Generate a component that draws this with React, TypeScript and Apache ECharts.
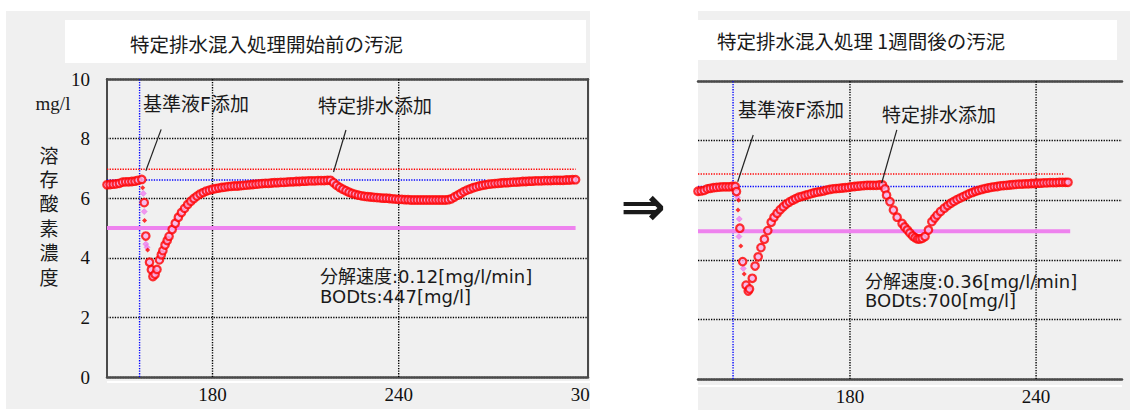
import React, { useEffect, useRef } from "react";
import * as echarts from "echarts";

// ---------- data: left panel (before) ----------
const beforeDO: [number, number][] = [
  [146, 6.45], [147, 6.46], [148, 6.47], [149, 6.48], [150, 6.5], [151, 6.54], [152, 6.55], [153, 6.55],
  [154, 6.56], [155, 6.57], [156, 6.6], [157.2, 6.63], [158.0, 5.85], [158.5, 4.73], [159.7, 3.85],
  [160.3, 3.6], [160.8, 3.37], [161.5, 3.45], [162.1, 3.61], [162.9, 3.93], [163.5, 4.1], [164.0, 4.24],
  [164.7, 4.43], [165.4, 4.58], [166, 4.72], [167, 4.95], [168, 5.16], [169, 5.36], [170, 5.52],
  [171, 5.66], [172, 5.79], [173, 5.9], [174, 5.99], [175, 6.07], [176, 6.14], [177, 6.19], [178, 6.24],
  [179, 6.27], [180, 6.3], [181, 6.32], [182, 6.34], [183, 6.36], [184, 6.37], [185, 6.39], [186, 6.4],
  [187, 6.41], [188, 6.41], [189, 6.42], [190, 6.43], [191, 6.44], [192, 6.45], [193, 6.46], [194, 6.47],
  [195, 6.48], [196, 6.49], [197, 6.5], [198, 6.5], [199, 6.51], [200, 6.52], [201, 6.52], [202, 6.53],
  [203, 6.53], [204, 6.54], [205, 6.55], [206, 6.55], [207, 6.56], [208, 6.56], [209, 6.57], [210, 6.57],
  [211, 6.58], [212, 6.58], [213, 6.58], [214, 6.59], [215, 6.59], [216, 6.59], [217, 6.6], [218, 6.6],
  [219, 6.52], [220, 6.43], [221, 6.36], [222, 6.3], [223, 6.25], [224, 6.2], [225, 6.16], [226, 6.13],
  [227, 6.1], [228, 6.08], [229, 6.06], [230, 6.05], [231, 6.04], [232, 6.03], [233, 6.02], [234, 6.01],
  [235, 6.0], [236, 6.0], [237, 5.99], [238, 5.98], [239, 5.97], [240, 5.96], [241, 5.96], [242, 5.95],
  [243, 5.95], [244, 5.94], [245, 5.94], [246, 5.94], [247, 5.94], [248, 5.94], [249, 5.94], [250, 5.94],
  [251, 5.94], [252, 5.94], [253, 5.94], [254, 5.94], [255, 5.94], [256, 5.95], [257, 5.98], [258, 6.04],
  [259, 6.1], [260, 6.16], [261, 6.22], [262, 6.27], [263, 6.31], [264, 6.35], [265, 6.38], [266, 6.41],
  [267, 6.43], [268, 6.45], [269, 6.47], [270, 6.48], [271, 6.49], [272, 6.5], [273, 6.51], [274, 6.52],
  [275, 6.52], [276, 6.53], [277, 6.54], [278, 6.54], [279, 6.55], [280, 6.56], [281, 6.56], [282, 6.57],
  [283, 6.57], [284, 6.58], [285, 6.58], [286, 6.58], [287, 6.59], [288, 6.59], [289, 6.59], [290, 6.6],
  [291, 6.6], [292, 6.6], [293, 6.6], [294, 6.61], [295, 6.61], [296, 6.62], [297, 6.62],
];
const beforeDots: [number, number][] = [[157.5, 6.35], [158.1, 5.25], [159.1, 4.26]];
const beforePink: [number, number][] = [[157.7, 6.16], [158.0, 5.55], [158.5, 4.46], [158.9, 4.35]];
const beforeUpper: [number, number][] = [[146, 6.97], [297, 6.97]];
const beforeBase: [number, number][] = [[146, 6.61], [268, 6.61]];
const beforeLimit: [number, number][] = [[146, 5.0], [297, 5.0]];
const beforeDoseX = 156.5;
const beforeLeaderF: [number, number][] = [[163.45, 8.31], [158.52, 6.92]];
const beforeLeaderW: [number, number][] = [[223.0, 8.29], [219.0, 6.88]];
const beforeStats = ["分解速度:0.12[mg/l/min]", "BODts:447[mg/l]"];

// ---------- data: right panel (after 1 week) ----------
const afterDO: [number, number][] = [
  [131, 6.3], [132, 6.31], [133, 6.33], [134, 6.38], [135, 6.4], [136, 6.42], [137, 6.43], [138, 6.44],
  [139, 6.45], [140, 6.45], [141, 6.45], [142, 6.46], [143, 6.46], [143.4, 6.29], [144.5, 5.06],
  [145.4, 3.94], [146.5, 3.15], [147.2, 2.95], [147.6, 3.02], [148.5, 3.38], [149.4, 3.79], [150.4, 4.1],
  [151.3, 4.41], [152.4, 4.69], [153.5, 4.98], [154.6, 5.26], [155.5, 5.43], [156.5, 5.56], [157.5, 5.68],
  [158.5, 5.78], [159.5, 5.87], [160.5, 5.94], [161.5, 6.0], [162.5, 6.05], [163.5, 6.1], [164.5, 6.13],
  [165.5, 6.16], [166.5, 6.19], [167.5, 6.22], [168.5, 6.25], [169.5, 6.27], [170.5, 6.29], [171.5, 6.31],
  [172.5, 6.34], [173.5, 6.36], [174.5, 6.38], [175.5, 6.39], [176.5, 6.4], [177.5, 6.41], [178.5, 6.42],
  [179.5, 6.43], [180.5, 6.45], [181.5, 6.46], [182.5, 6.47], [183.5, 6.48], [184.5, 6.49], [185.5, 6.5],
  [186.5, 6.5], [187.5, 6.5], [188.5, 6.5], [189.5, 6.51], [190.5, 6.51], [191.3, 6.38], [191.8, 6.17],
  [192.9, 5.95], [194.0, 5.67], [195.2, 5.43], [196.8, 5.22], [197.6, 5.1], [198.5, 5.0], [199.3, 4.9],
  [200.2, 4.8], [201, 4.74], [201.8, 4.7], [202.5, 4.7], [203.3, 4.72], [204.2, 4.78], [205.3, 5.0],
  [206.4, 5.28], [207.3, 5.4], [208.1, 5.5], [209.2, 5.62], [210.4, 5.73], [211.5, 5.82], [212.5, 5.9],
  [213.5, 5.96], [214.5, 6.02], [215.5, 6.07], [216.5, 6.12], [217.5, 6.17], [218.5, 6.22], [219.5, 6.26],
  [220.5, 6.3], [221.5, 6.33], [222.5, 6.36], [223.5, 6.39], [224.5, 6.41], [225.5, 6.43], [226.5, 6.45],
  [227.5, 6.46], [228.5, 6.48], [229.5, 6.49], [230.5, 6.5], [231.5, 6.51], [232.5, 6.52], [233.5, 6.53],
  [234.5, 6.54], [235.5, 6.54], [236.5, 6.55], [237.5, 6.55], [238.5, 6.56], [239.5, 6.56], [240.5, 6.57],
  [241.5, 6.57], [242.5, 6.58], [243.5, 6.58], [244.5, 6.59], [245.5, 6.59], [246.5, 6.59], [247.5, 6.6],
  [248.5, 6.6], [249.5, 6.6], [250.3, 6.6],
];
const afterDots: [number, number][] = [[144.1, 6.0], [143.9, 5.67], [144.8, 4.46], [145.9, 3.52]];
const afterPink: [number, number][] = [[143.7, 6.1], [144.3, 5.37], [144.2, 4.78], [145.6, 3.71]];
const afterUpper: [number, number][] = [[131, 6.88], [249, 6.88]];
const afterBase: [number, number][] = [[131, 6.46], [222, 6.46]];
const afterLimit: [number, number][] = [[131, 4.96], [251, 4.96]];
const afterDoseX = 142.3;
const afterLeaderF: [number, number][] = [[148.8, 8.19], [143.8, 6.62]];
const afterLeaderW: [number, number][] = [[195.1, 8.36], [190.2, 6.57]];
const afterStats = ["分解速度:0.36[mg/l/min]", "BODts:700[mg/l]"];

const gridXTicks = [180, 240];
const yTicks = { min: 0, max: 10, interval: 2 };

const SANS = '"DejaVu Sans", "Noto Sans CJK JP", sans-serif';
const CJK = '"Noto Sans CJK JP", "DejaVu Sans", sans-serif';
const SERIF = '"Liberation Serif", "DejaVu Serif", serif';
const DOT: number[] = [1.3, 1.3];

function txt(text: string, x: number, y: number, size: number, family: string, extra: any = {}) {
  return {
    type: "text",
    x,
    y,
    z: 50,
    silent: true,
    style: {
      text,
      fill: "#1a1a1a",
      fontSize: size,
      fontFamily: family,
      align: extra.align || "left",
      textAlign: extra.align || "left",
      verticalAlign: "middle",
      textVerticalAlign: "middle",
      lineHeight: extra.lineHeight,
      fontWeight: extra.fontWeight || "normal",
    },
  };
}

function refLine(name: string, data: [number, number][], color: string, width: number, type: any, z = 1) {
  return {
    name,
    type: "line",
    data,
    showSymbol: false,
    symbol: "none",
    silent: true,
    z,
    lineStyle: { color, width, type },
    animation: false,
  };
}

function buildOption(p: any) {
  const { xMin, xMax, grid, labels, main, dots, pink, upper, base, limit, doseX, leaders } = p;
  const vGrid = gridXTicks.map((v) =>
    refLine("grid" + v, [[v, yTicks.min], [v, yTicks.max]], "#000", 1.4, DOT, 1)
  );
  return {
    animation: false,
    grid: {
      left: grid.left,
      top: grid.top,
      width: grid.width,
      height: grid.height,
      containLabel: false,
      outerBoundsMode: "none",
    },
    xAxis: [
      {
        type: "value",
        min: xMin,
        max: xMax,
        position: "bottom",
        axisLine: { show: true, onZero: false, lineStyle: { color: "#4a4a4a", width: 2.5 } },
        axisTick: { show: false },
        splitLine: { show: false },
        axisLabel: {
          customValues: labels,
          color: "#111",
          fontFamily: SERIF,
          fontSize: 19,
          margin: 8,
        },
      },
      {
        type: "value",
        min: xMin,
        max: xMax,
        position: "top",
        axisLine: { show: true, onZero: false, lineStyle: { color: "#4a4a4a", width: 2.5 } },
        axisTick: { show: false },
        splitLine: { show: false },
        axisLabel: { show: false },
      },
    ],
    yAxis: [
      {
        type: "value",
        min: yTicks.min,
        max: yTicks.max,
        interval: yTicks.interval,
        position: "left",
        axisLine: { show: p.showY, lineStyle: { color: "#4a4a4a", width: 2 } },
        axisTick: { show: false },
        axisLabel: { show: p.showY, color: "#111", fontFamily: SERIF, fontSize: 19, margin: 17 },
        splitLine: { show: true, lineStyle: { color: "#000", width: 1.4, type: DOT } },
      },
      {
        type: "value",
        min: yTicks.min,
        max: yTicks.max,
        position: "right",
        axisLine: { show: p.showY, lineStyle: { color: "#4a4a4a", width: 2 } },
        axisTick: { show: false },
        axisLabel: { show: false },
        splitLine: { show: false },
      },
    ],
    graphic: p.graphic,
    series: [
      ...vGrid,
      refLine("upper", upper, "#ff0000", 1.4, DOT, 2),
      refLine("base", base, "#0000ff", 1.4, DOT, 2),
      refLine("dose", [[doseX, yTicks.min], [doseX, yTicks.max]], "#0000ff", 1.4, DOT, 2),
      refLine("limit", limit, "#ee82ee", 4, "solid", 3),
      {
        name: "pink",
        type: "scatter",
        data: pink,
        symbol: "diamond",
        symbolSize: 6,
        z: 4,
        itemStyle: { color: "#f080f0", borderColor: "#e060e0", borderWidth: 0.5 },
      },
      {
        name: "dots",
        type: "scatter",
        data: dots,
        symbol: "diamond",
        symbolSize: 5,
        z: 4,
        itemStyle: { color: "#ff0000" },
      },
      {
        name: "DO",
        type: "scatter",
        data: main,
        symbol: "circle",
        symbolSize: 7.5,
        z: 5,
        itemStyle: { color: "#f6b0ea", borderColor: "#ff0000", borderWidth: 2.2 },
      },
      ...leaders.map((l: [number, number][], i: number) => refLine("leader" + i, l, "#222", 1.2, "solid", 6)),
    ],
  };
}

function leftOption() {
  const graphic = [
    { type: "rect", z: -100, silent: true, shape: { x: 6, y: 11, width: 584, height: 398 }, style: { fill: "#f0f0f0" } },
    { type: "rect", z: -90, silent: true, shape: { x: 65, y: 20, width: 521, height: 43 }, style: { fill: "#ffffff" } },
    { type: "line", z: -80, silent: true, shape: { x1: 107, y1: 382, x2: 590, y2: 382 }, style: { stroke: "#ffffff", lineWidth: 2 } },
    txt("特定排水混入処理開始前の汚泥", 130, 43, 19.5, CJK),
    txt("mg/l", 53, 103, 19, SERIF, { align: "center" }),
    txt("溶\n存\n酸\n素\n濃\n度", 49, 215, 19, CJK, { align: "center", lineHeight: 24.4 }),
    txt("基準液F添加", 143, 104, 19, SANS),
    txt("特定排水添加", 318, 104, 19, CJK),
    txt(beforeStats.join("\n"), 320, 286, 18, SANS, { lineHeight: 20 }),
  ];
  return buildOption({
    xMin: 146,
    xMax: 301,
    grid: { left: 107, top: 79, width: 481, height: 298 },
    labels: [180, 240, 300],
    main: beforeDO,
    dots: beforeDots,
    pink: beforePink,
    upper: beforeUpper,
    base: beforeBase,
    limit: beforeLimit,
    doseX: beforeDoseX,
    leaders: [beforeLeaderF, beforeLeaderW],
    showY: true,
    graphic,
  });
}

function rightOption() {
  const graphic = [
    { type: "rect", z: -100, silent: true, shape: { x: 108, y: 11, width: 432, height: 399 }, style: { fill: "#f0f0f0" } },
    { type: "rect", z: -90, silent: true, shape: { x: 108, y: 20, width: 419, height: 40 }, style: { fill: "#ffffff" } },
    { type: "line", z: -80, silent: true, shape: { x1: 108, y1: 386, x2: 532, y2: 386 }, style: { stroke: "#ffffff", lineWidth: 2 } },
    txt("特定排水混入処理 1週間後の汚泥", 127, 40, 19.5, CJK),
    txt("⇒", 53, 206, 54, '"DejaVu Sans", sans-serif', { align: "center", fontWeight: "bold" }),
    txt("基準液F添加", 148, 110, 19, SANS),
    txt("特定排水添加", 292, 113, 19, CJK),
    txt(afterStats.join("\n"), 275, 291, 18, SANS, { lineHeight: 19 }),
  ];
  return buildOption({
    xMin: 131,
    xMax: 267.7,
    grid: { left: 108, top: 81, width: 424, height: 298 },
    labels: [180, 240],
    main: afterDO,
    dots: afterDots,
    pink: afterPink,
    upper: afterUpper,
    base: afterBase,
    limit: afterLimit,
    doseX: afterDoseX,
    leaders: [afterLeaderF, afterLeaderW],
    showY: false,
    graphic,
  });
}

export default function App() {
  const leftRef = useRef<HTMLDivElement>(null);
  const rightRef = useRef<HTMLDivElement>(null);
  useEffect(() => {
    const l = echarts.init(leftRef.current!, undefined, { renderer: "svg" });
    const r = echarts.init(rightRef.current!, undefined, { renderer: "svg" });
    l.setOption(leftOption() as any);
    r.setOption(rightOption() as any);
    return () => {
      l.dispose();
      r.dispose();
    };
  }, []);
  return (
    <div style={{ position: "absolute", left: 0, top: 0, width: 1130, height: 410, background: "#fff", overflow: "hidden" }}>
      <div ref={leftRef} style={{ position: "absolute", left: 0, top: 0, width: 590, height: 410, overflow: "hidden" }} />
      <div ref={rightRef} style={{ position: "absolute", left: 590, top: 0, width: 540, height: 410, overflow: "hidden" }} />
    </div>
  );
}
